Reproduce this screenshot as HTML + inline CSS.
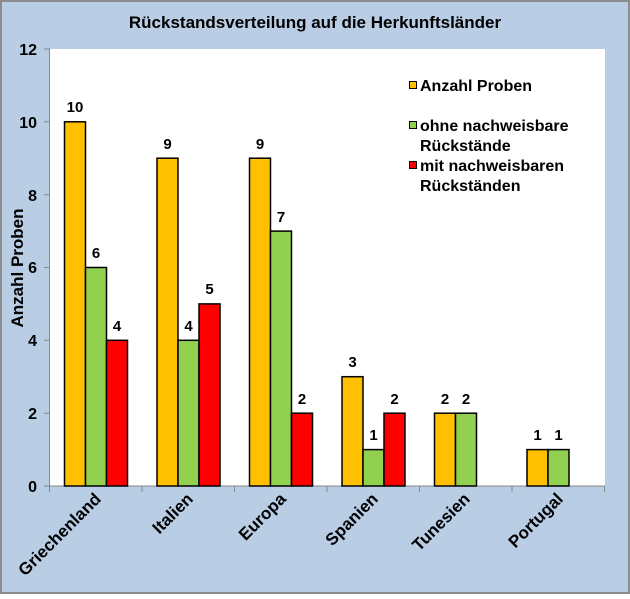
<!DOCTYPE html>
<html><head><meta charset="utf-8"><style>
body{margin:0;}
svg text{font-family:"Liberation Sans",Arial,sans-serif;font-weight:bold;fill:#000;}
</style></head><body>
<svg width="630" height="594" xmlns="http://www.w3.org/2000/svg">
<rect x="0" y="0" width="630" height="594" fill="#8c8c8c"/>
<rect x="2" y="2" width="626" height="590" fill="#b9cde5"/>
<text x="315" y="28" font-size="17" text-anchor="middle">Rückstandsverteilung auf die Herkunftsländer</text>
<rect x="50" y="49" width="555" height="437" fill="#fff"/>
<line x1="49.5" y1="49" x2="49.5" y2="486" stroke="#888" stroke-width="1"/>
<line x1="49.5" y1="486" x2="605" y2="486" stroke="#888" stroke-width="1"/>
<g stroke="#888" stroke-width="1">
<line x1="44" y1="49" x2="50" y2="49"/><line x1="44" y1="121.8" x2="50" y2="121.8"/><line x1="44" y1="194.7" x2="50" y2="194.7"/><line x1="44" y1="267.5" x2="50" y2="267.5"/><line x1="44" y1="340.3" x2="50" y2="340.3"/><line x1="44" y1="413.2" x2="50" y2="413.2"/><line x1="44" y1="486" x2="50" y2="486"/>
<line x1="49.5" y1="486" x2="49.5" y2="492"/><line x1="142" y1="486" x2="142" y2="492"/><line x1="234.5" y1="486" x2="234.5" y2="492"/><line x1="327" y1="486" x2="327" y2="492"/><line x1="419.5" y1="486" x2="419.5" y2="492"/><line x1="512" y1="486" x2="512" y2="492"/><line x1="604.5" y1="486" x2="604.5" y2="492"/>
</g>
<g font-size="16" text-anchor="end">
<text x="37" y="55">12</text><text x="37" y="128">10</text><text x="37" y="201">8</text><text x="37" y="273">6</text><text x="37" y="346">4</text><text x="37" y="419">2</text><text x="37" y="492">0</text>
</g>
<text transform="translate(23,268) rotate(-90)" font-size="17" text-anchor="middle">Anzahl Proben</text>
<g stroke="#000" stroke-width="1.5">
<rect x="64.5" y="121.8" width="21" height="364.2" fill="#ffc000"/>
<rect x="85.5" y="267.5" width="21" height="218.5" fill="#92d050"/>
<rect x="106.5" y="340.3" width="21" height="145.7" fill="#ff0000"/>
<rect x="157" y="158.2" width="21" height="327.8" fill="#ffc000"/>
<rect x="178" y="340.3" width="21" height="145.7" fill="#92d050"/>
<rect x="199" y="303.9" width="21" height="182.1" fill="#ff0000"/>
<rect x="249.5" y="158.2" width="21" height="327.8" fill="#ffc000"/>
<rect x="270.5" y="231.1" width="21" height="254.9" fill="#92d050"/>
<rect x="291.5" y="413.2" width="21" height="72.8" fill="#ff0000"/>
<rect x="342" y="376.7" width="21" height="109.3" fill="#ffc000"/>
<rect x="363" y="449.6" width="21" height="36.4" fill="#92d050"/>
<rect x="384" y="413.2" width="21" height="72.8" fill="#ff0000"/>
<rect x="434.5" y="413.2" width="21" height="72.8" fill="#ffc000"/>
<rect x="455.5" y="413.2" width="21" height="72.8" fill="#92d050"/>
<rect x="527" y="449.6" width="21" height="36.4" fill="#ffc000"/>
<rect x="548" y="449.6" width="21" height="36.4" fill="#92d050"/>
</g>
<g font-size="15" text-anchor="middle">
<text x="75" y="112">10</text><text x="96" y="258">6</text><text x="117" y="331">4</text>
<text x="167.5" y="149">9</text><text x="188.5" y="331">4</text><text x="209.5" y="294">5</text>
<text x="260" y="149">9</text><text x="281" y="222">7</text><text x="302" y="404">2</text>
<text x="352.5" y="367">3</text><text x="373.5" y="440">1</text><text x="394.5" y="404">2</text>
<text x="445" y="404">2</text><text x="466" y="404">2</text>
<text x="537.5" y="440">1</text><text x="558.5" y="440">1</text>
</g>
<g font-size="17" text-anchor="end">
<text transform="translate(102,500) rotate(-45)">Griechenland</text>
<text transform="translate(194,500) rotate(-45)">Italien</text>
<text transform="translate(287,500) rotate(-45)">Europa</text>
<text transform="translate(379,500) rotate(-45)">Spanien</text>
<text transform="translate(471,500) rotate(-45)">Tunesien</text>
<text transform="translate(564,500) rotate(-45)">Portugal</text>
</g>
<g stroke="#000" stroke-width="1">
<rect x="409.5" y="81.5" width="7" height="7" fill="#ffc000"/>
<rect x="409.5" y="121.5" width="7" height="7" fill="#92d050"/>
<rect x="409.5" y="161.5" width="7" height="7" fill="#ff0000"/>
</g>
<g font-size="16">
<text x="420" y="91">Anzahl Proben</text>
<text x="420" y="131">ohne nachweisbare</text>
<text x="420" y="151">Rückstände</text>
<text x="420" y="171">mit nachweisbaren</text>
<text x="420" y="191">Rückständen</text>
</g>
</svg>
</body></html>
